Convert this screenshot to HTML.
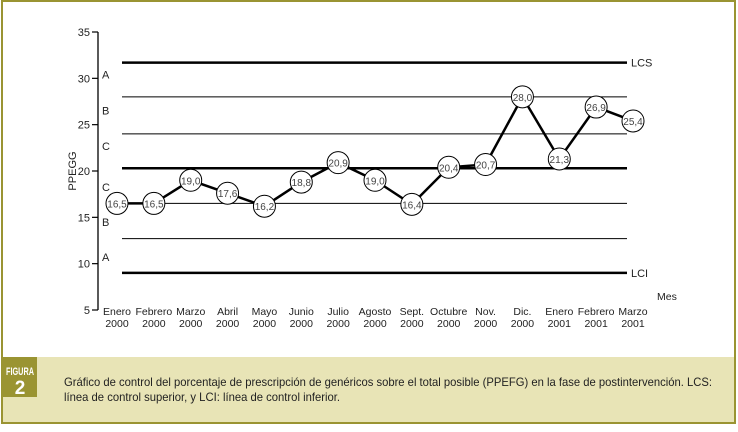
<!DOCTYPE html>
<html><head><meta charset="utf-8"><style>
body{margin:0;width:738px;height:432px;background:#fff;font-family:"Liberation Sans",Arial,sans-serif;overflow:hidden}
</style></head><body>
<svg width="738" height="432" style="position:absolute;left:0;top:0">
<rect x="2" y="1" width="733" height="422" fill="#fff" stroke="#9a9432" stroke-width="2"/>
<rect x="3" y="357" width="731" height="65" fill="#e8e4b6"/>
<rect x="3" y="357" width="34" height="40" fill="#9a9432"/>
<text x="6" y="375" font-size="11" font-weight="bold" fill="#fff" textLength="28" lengthAdjust="spacingAndGlyphs">FIGURA</text>
<text x="20" y="394" text-anchor="middle" font-size="19" font-weight="bold" fill="#fff">2</text>
<text x="64" y="386" font-size="12" fill="#222" textLength="648" lengthAdjust="spacingAndGlyphs">Gráfico de control del porcentaje de prescripción de genéricos sobre el total posible (PPEFG) en la fase de postintervención. LCS:</text>
<text x="64" y="401" font-size="12" fill="#222" textLength="276" lengthAdjust="spacingAndGlyphs">línea de control superior, y LCI: línea de control inferior.</text>
<g id="chart"></g>
</svg>
<script>
const months=["Enero","Febrero","Marzo","Abril","Mayo","Junio","Julio","Agosto","Sept.","Octubre","Nov.","Dic.","Enero","Febrero","Marzo"];
const years=["2000","2000","2000","2000","2000","2000","2000","2000","2000","2000","2000","2000","2001","2001","2001"];
const values=[16.5,16.5,19.0,17.6,16.2,18.8,20.9,19.0,16.4,20.4,20.7,28.0,21.3,26.9,25.4];
const labels=["16,5","16,5","19,0","17,6","16,2","18,8","20,9","19,0","16,4","20,4","20,7","28,0","21,3","26,9","25,4"];
const yTicks=[5,10,15,20,25,30,35];
const controlLines=[31.7,28.0,24.0,20.3,16.5,12.7,9.0];
const controlWidths=[2.5,1,1,2.5,1,1,2.5];
const zoneLetters=["A","B","C","C","B","A"];
const NS="http://www.w3.org/2000/svg";
const g=document.getElementById('chart');
const y=v=>310-(v-5)*(278/30);
const x=i=>117+i*(516/14);
function el(t,a,txt){const e=document.createElementNS(NS,t);for(const k in a)e.setAttribute(k,a[k]);if(txt!==undefined)e.textContent=txt;g.appendChild(e);return e;}
let e=el('line',{x1:98,y1:y(35),x2:98,y2:y(5),stroke:'#000','stroke-width':1.3});


yTicks.forEach(t=>{
 let l=el('line',{x1:92,y1:y(t),x2:98,y2:y(t),stroke:'#000','stroke-width':1.2});
 
 
 let s=el('text',{x:90,y:y(t)+4,'text-anchor':'end','font-size':11,fill:'#222'},String(t));
 
 
});
e=el('text',{x:0,y:0,'text-anchor':'middle','font-size':11,fill:'#222',transform:`translate(76,${y(20)}) rotate(-90)`},'PPEGG');


controlLines.forEach((v,i)=>{
 let l=el('line',{x1:122,y1:y(v),x2:627,y2:y(v),stroke:'#000','stroke-width':controlWidths[i]});
 
 
});
e=el('text',{x:631,y:y(controlLines[0])+4,'font-size':11,fill:'#222'},'LCS');


e=el('text',{x:631,y:y(controlLines[6])+4,'font-size':11,fill:'#222'},'LCI');


zoneLetters.forEach((z,i)=>{
 const mid=(controlLines[i]+controlLines[i+1])/2;
 let s=el('text',{x:102,y:y(mid)+(i<3?-1:5),'font-size':11,fill:'#222'},z);
 
 
});
e=el('polyline',{points:values.map((v,i)=>x(i)+','+y(v)).join(' '),fill:'none',stroke:'#000','stroke-width':2.5});


values.forEach((v,i)=>{
 let c=el('circle',{cx:x(i),cy:y(v),r:11,fill:'#fff',stroke:'#000','stroke-width':1});
 
 
 let t=el('text',{x:x(i),y:y(v)+4,'text-anchor':'middle','font-size':10,fill:'#444'},labels[i]);
 
 
 let m=el('text',{x:x(i),y:315,'text-anchor':'middle','font-size':10.5,fill:'#222'},months[i]);
 
 
 let yr=el('text',{x:x(i),y:327,'text-anchor':'middle','font-size':10.5,fill:'#222'},years[i]);
 
 
});
e=el('text',{x:657,y:300,'font-size':10.5,fill:'#222'},'Mes');


</script>
</body></html>
